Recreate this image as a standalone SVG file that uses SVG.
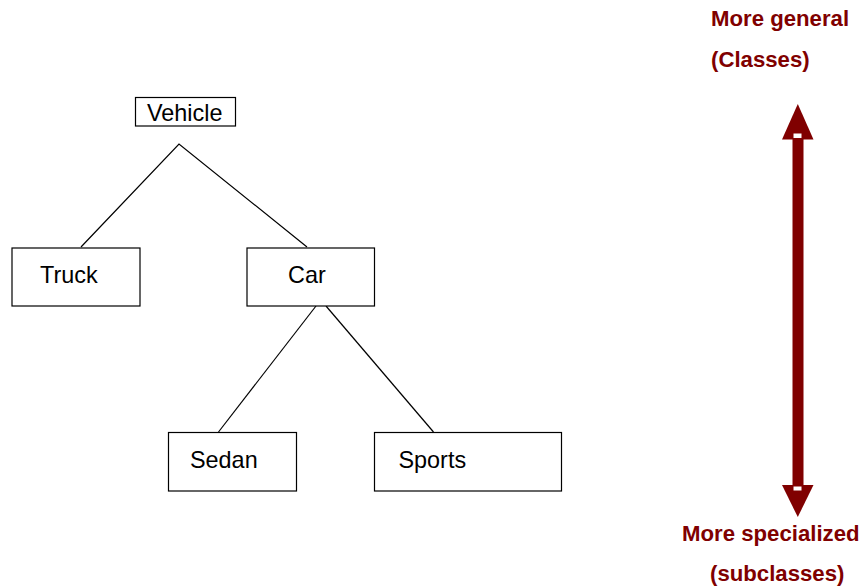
<svg xmlns="http://www.w3.org/2000/svg" width="861" height="588" viewBox="0 0 861 588">
<style>
.box{fill:#fff;stroke:#000;stroke-width:1.2}
.lbl{font-family:"Liberation Sans",Arial,sans-serif;font-size:23.4px;fill:#000}
.note{font-family:"Liberation Sans",Arial,sans-serif;font-size:22.2px;font-weight:bold;fill:#800000}
.conn{stroke:#000;stroke-width:1.2;fill:none}
.arr{fill:#800000}
</style>
<rect width="861" height="588" fill="#fff"/>
<g id="connectors">
<polyline class="conn" points="81,247 179,144 307,247"/>
<line class="conn" x1="316" y1="306" x2="218.5" y2="432"/>
<line class="conn" x1="326" y1="306" x2="433.5" y2="432"/>
</g>
<g id="vehicle"><rect class="box" x="135.5" y="97.5" width="100" height="28.5"/><text class="lbl" x="147" y="120.7">Vehicle</text></g>
<g id="truck"><rect class="box" x="12" y="248" width="128" height="58"/><text class="lbl" x="40" y="282.5">Truck</text></g>
<g id="car"><rect class="box" x="247" y="248" width="127.5" height="58"/><text class="lbl" x="288" y="283">Car</text></g>
<g id="sedan"><rect class="box" x="168.5" y="432.5" width="128" height="58.5"/><text class="lbl" x="190" y="467.7">Sedan</text></g>
<g id="sports"><rect class="box" x="374.5" y="432.5" width="187" height="58.5"/><text class="lbl" x="398.5" y="467.7">Sports</text></g>
<g id="scale-arrow">
<rect class="arr" x="792.5" y="136" width="11" height="352"/>
<polygon class="arr" points="797.8,104 782,139.5 813.5,139.5"/>
<polygon class="arr" points="797.8,517 782,485 813.5,485"/>
<rect x="793.5" y="133.5" width="8" height="4.5" fill="#fff"/>
<rect x="793.5" y="486.5" width="8" height="4" fill="#fff"/>
</g>
<g id="labels">
<text class="note" x="711" y="26">More general</text>
<text class="note" x="711" y="67">(Classes)</text>
<text class="note" x="682" y="540.5">More specialized</text>
<text class="note" x="710" y="580.5">(subclasses)</text>
</g>
</svg>
